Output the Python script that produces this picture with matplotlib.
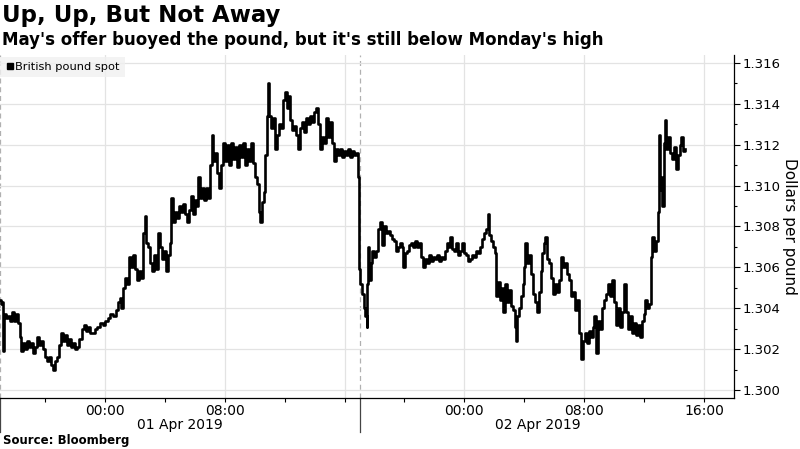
import matplotlib
matplotlib.use("Agg")
import matplotlib.pyplot as plt
import matplotlib.dates as mdates
import matplotlib.transforms as mtransforms
from matplotlib.lines import Line2D
from matplotlib.ticker import MultipleLocator, FuncFormatter
import pandas as pd

# GBP spot: (minutes after 31 Mar 2019 17:00 New York close, price)
spot = [
    (0, 1.3044), (4, 1.3042), (8, 1.3043), (12, 1.3019), (16, 1.3037), (24, 1.3035),
    (32, 1.3036), (40, 1.3034), (48, 1.3038), (56, 1.3034), (64, 1.3037), (72, 1.3033),
    (80, 1.3026), (84, 1.3019), (92, 1.3023), (100, 1.3020), (108, 1.3024), (116, 1.3021),
    (124, 1.3023), (132, 1.3018), (140, 1.3021), (148, 1.3026), (156, 1.3022), (164, 1.3024),
    (172, 1.3020), (180, 1.3016), (188, 1.3014), (196, 1.3016), (204, 1.3012), (212, 1.3010),
    (220, 1.3014), (228, 1.3016), (236, 1.3022), (244, 1.3028), (252, 1.3024), (260, 1.3027),
    (268, 1.3022), (276, 1.3025), (284, 1.3021), (292, 1.3023), (300, 1.3020), (308, 1.3021),
    (316, 1.3025), (328, 1.3030), (336, 1.3032), (344, 1.3029), (352, 1.3031), (360, 1.3028),
    (372, 1.3028), (380, 1.3030), (388, 1.3031), (400, 1.3033), (412, 1.3032), (420, 1.3034),
    (432, 1.3035), (440, 1.3037), (452, 1.3036), (464, 1.3039), (472, 1.3043), (480, 1.3045),
    (484, 1.3040), (492, 1.3050), (500, 1.3055), (508, 1.3052), (516, 1.3065), (524, 1.3060),
    (532, 1.3066), (540, 1.3059), (548, 1.3054), (556, 1.3058), (564, 1.3055), (572, 1.3077),
    (580, 1.3085), (584, 1.3072), (592, 1.3070), (600, 1.3062), (608, 1.3058), (616, 1.3066),
    (624, 1.3059), (632, 1.3077), (640, 1.3070), (648, 1.3064), (656, 1.3068), (664, 1.3058),
    (672, 1.3066), (680, 1.3072), (684, 1.3094), (692, 1.3082), (700, 1.3087), (708, 1.3084),
    (716, 1.3090), (724, 1.3087), (732, 1.3091), (740, 1.3086), (748, 1.3082), (756, 1.3088),
    (764, 1.3095), (772, 1.3086), (780, 1.3093), (788, 1.3090), (792, 1.3104), (800, 1.3094),
    (808, 1.3099), (816, 1.3093), (824, 1.3099), (832, 1.3094), (840, 1.3110), (848, 1.3125),
    (852, 1.3112), (860, 1.3116), (868, 1.3106), (876, 1.3099), (884, 1.3110), (892, 1.3121),
    (900, 1.3112), (908, 1.3120), (916, 1.3110), (924, 1.3121), (932, 1.3113), (940, 1.3119),
    (948, 1.3109), (956, 1.3120), (964, 1.3114), (972, 1.3121), (980, 1.3110), (988, 1.3118),
    (996, 1.3112), (1004, 1.3121), (1012, 1.3111), (1020, 1.3104), (1028, 1.3101),
    (1036, 1.3087), (1040, 1.3082), (1048, 1.3092), (1056, 1.3097), (1060, 1.3115),
    (1068, 1.3134), (1072, 1.3150), (1076, 1.3134), (1084, 1.3128), (1092, 1.3133),
    (1100, 1.3118), (1108, 1.3125), (1116, 1.3130), (1124, 1.3128), (1132, 1.3142),
    (1140, 1.3146), (1148, 1.3138), (1156, 1.3144), (1160, 1.3132), (1168, 1.3127),
    (1176, 1.3129), (1184, 1.3125), (1192, 1.3118), (1200, 1.3128), (1208, 1.3131),
    (1216, 1.3126), (1224, 1.3133), (1232, 1.3130), (1240, 1.3134), (1248, 1.3131),
    (1256, 1.3136), (1264, 1.3138), (1272, 1.3130), (1280, 1.3118), (1288, 1.3124),
    (1296, 1.3121), (1304, 1.3133), (1312, 1.3124), (1320, 1.3131), (1328, 1.3121),
    (1336, 1.3112), (1344, 1.3118), (1352, 1.3115), (1360, 1.3118), (1368, 1.3114),
    (1376, 1.3117), (1384, 1.3115), (1392, 1.3118), (1400, 1.3114), (1408, 1.3117),
    (1416, 1.3115), (1424, 1.3116), (1432, 1.3104), (1436, 1.3059), (1440, 1.3052),
    (1448, 1.3047), (1456, 1.3040), (1460, 1.3036), (1468, 1.3031), (1472, 1.3052),
    (1476, 1.3070), (1480, 1.3054), (1488, 1.3062), (1492, 1.3068), (1500, 1.3065),
    (1508, 1.3068), (1516, 1.3079), (1524, 1.3082), (1532, 1.3071), (1540, 1.3080),
    (1548, 1.3077), (1556, 1.3078), (1564, 1.3076), (1572, 1.3074), (1580, 1.3073),
    (1588, 1.3068), (1596, 1.3070), (1604, 1.3072), (1612, 1.3070), (1616, 1.3060),
    (1624, 1.3067), (1632, 1.3068), (1640, 1.3071), (1648, 1.3072), (1656, 1.3070),
    (1664, 1.3073), (1672, 1.3070), (1680, 1.3072), (1688, 1.3065), (1696, 1.3060),
    (1704, 1.3064), (1712, 1.3062), (1720, 1.3066), (1728, 1.3063), (1736, 1.3065),
    (1744, 1.3064), (1752, 1.3066), (1760, 1.3063), (1768, 1.3065), (1776, 1.3064),
    (1784, 1.3068), (1792, 1.3072), (1800, 1.3070), (1804, 1.3075), (1812, 1.3069),
    (1820, 1.3068), (1828, 1.3072), (1836, 1.3066), (1844, 1.3068), (1852, 1.3072),
    (1860, 1.3067), (1868, 1.3066), (1876, 1.3063), (1884, 1.3064), (1892, 1.3066),
    (1900, 1.3065), (1908, 1.3068), (1916, 1.3067), (1924, 1.3070), (1932, 1.3074),
    (1940, 1.3077), (1948, 1.3079), (1956, 1.3086), (1960, 1.3076), (1968, 1.3073),
    (1976, 1.3070), (1984, 1.3067), (1988, 1.3046), (1996, 1.3053), (2004, 1.3044),
    (2012, 1.3050), (2016, 1.3038), (2024, 1.3052), (2032, 1.3043), (2040, 1.3049),
    (2048, 1.3041), (2056, 1.3039), (2064, 1.3031), (2068, 1.3024), (2072, 1.3036),
    (2080, 1.3040), (2088, 1.3046), (2096, 1.3052), (2100, 1.3060), (2104, 1.3072),
    (2112, 1.3062), (2120, 1.3066), (2128, 1.3057), (2136, 1.3047), (2144, 1.3043),
    (2152, 1.3038), (2160, 1.3048), (2168, 1.3058), (2172, 1.3067), (2180, 1.3072),
    (2184, 1.3075), (2192, 1.3064), (2200, 1.3062), (2208, 1.3055), (2216, 1.3047),
    (2224, 1.3052), (2232, 1.3048), (2240, 1.3054), (2248, 1.3065), (2256, 1.3060),
    (2264, 1.3062), (2272, 1.3057), (2280, 1.3054), (2288, 1.3046), (2296, 1.3048),
    (2304, 1.3039), (2312, 1.3044), (2320, 1.3028), (2328, 1.3015), (2336, 1.3024),
    (2344, 1.3028), (2352, 1.3023), (2360, 1.3029), (2368, 1.3026), (2376, 1.3031),
    (2380, 1.3036), (2388, 1.3018), (2396, 1.3034), (2404, 1.3030), (2412, 1.3040),
    (2420, 1.3044), (2428, 1.3047), (2436, 1.3052), (2444, 1.3046), (2452, 1.3054),
    (2460, 1.3043), (2468, 1.3032), (2476, 1.3040), (2484, 1.3031), (2492, 1.3038),
    (2500, 1.3052), (2508, 1.3038), (2516, 1.3030), (2524, 1.3036), (2532, 1.3028),
    (2540, 1.3033), (2548, 1.3027), (2556, 1.3032), (2564, 1.3026), (2572, 1.3034),
    (2580, 1.3037), (2584, 1.3044), (2592, 1.3040), (2600, 1.3042), (2608, 1.3065),
    (2612, 1.3075), (2620, 1.3068), (2628, 1.3073), (2636, 1.3087), (2640, 1.3125),
    (2644, 1.3098), (2648, 1.3104), (2652, 1.3090), (2660, 1.3121), (2664, 1.3132),
    (2668, 1.3118), (2676, 1.3124), (2684, 1.3116), (2692, 1.3113), (2700, 1.3119),
    (2708, 1.3108), (2716, 1.3115), (2724, 1.3120), (2728, 1.3124), (2736, 1.3117),
    (2744, 1.3118),
]
minutes = [m for m, p in spot]
price = [p for m, p in spot]

start = pd.Timestamp("2019-03-31 17:00")
end = pd.Timestamp("2019-04-02 18:00")
day_breaks = [pd.Timestamp("2019-03-31 17:00"), pd.Timestamp("2019-04-01 17:00")]
day_labels = ["01 Apr 2019", "02 Apr 2019"]
day_label_pos = [pd.Timestamp("2019-04-01 05:00"), pd.Timestamp("2019-04-02 04:55")]

times = start + pd.to_timedelta(minutes, unit="min")

fig = plt.figure(figsize=(8, 4.49), dpi=100)
ax = fig.add_axes([0.0, 0.1136, 0.9175, 0.7639])

ax.plot(times, price, color="black", lw=1.9, drawstyle="steps-post", zorder=3)

ax.set_xlim(start, end)
ax.set_ylim(1.29961, 1.31639)

# y axis on the right
ax.yaxis.tick_right()
ax.yaxis.set_label_position("right")
ax.yaxis.set_major_locator(MultipleLocator(0.002))
ax.yaxis.set_minor_locator(MultipleLocator(0.001))
ax.yaxis.set_major_formatter(FuncFormatter(lambda v, p: "%.3f" % v))
ax.tick_params(axis="y", which="major", length=4, width=0.8, labelsize=9.5, pad=2)
ax.tick_params(axis="y", which="minor", length=2, width=0.8)
ax.set_ylabel("Dollars per pound", rotation=270, labelpad=12, fontsize=11)

# x axis
ax.xaxis.set_major_locator(mdates.HourLocator(byhour=[0, 8, 16]))
ax.xaxis.set_minor_locator(mdates.HourLocator(byhour=[4, 12, 20]))


def fmt_time(v, p):
    d = mdates.num2date(v).replace(tzinfo=None)
    if d < pd.Timestamp("2019-04-01 17:00") and d.hour == 16:
        return ""
    return d.strftime("%H:%M")


ax.xaxis.set_major_formatter(FuncFormatter(fmt_time))
ax.tick_params(axis="x", which="major", length=3, width=0.8, labelsize=10, pad=1)
ax.tick_params(axis="x", which="minor", length=3, width=0.8)

ax.grid(True, which="major", color="#e3e3e3", lw=0.9, zorder=0)

for sp in ["top", "left"]:
    ax.spines[sp].set_visible(False)
ax.spines["right"].set_linewidth(0.9)
ax.spines["bottom"].set_linewidth(0.9)

trans = mtransforms.blended_transform_factory(ax.transData, ax.transAxes)
for b in day_breaks:
    ax.axvline(b, color="#b0b0b0", lw=0.9, ls=(0, (4, 3)), zorder=1)
    ax.plot([b, b], [0, -0.1], transform=trans, color="#444444", lw=0.9, clip_on=False)
for lbl, pos in zip(day_labels, day_label_pos):
    ax.text(pos, -0.08, lbl, transform=trans, ha="center", va="center", fontsize=10)

# legend box
handle = Line2D([], [], marker="s", color="black", ls="none", markersize=5)
leg = ax.legend([handle], ["British pound spot"], loc="upper left",
                bbox_to_anchor=(0.0, 0.995), borderaxespad=0, frameon=True,
                fancybox=False, handletextpad=0.1, handlelength=0.8,
                borderpad=0.45, prop={"size": 8.2})
leg.get_frame().set_facecolor("#f0f0f0")
leg.get_frame().set_edgecolor("none")

fig.text(0.002, 0.965, "Up, Up, But Not Away", fontsize=16.5, fontweight="bold",
         va="center", ha="left")
fig.text(0.002, 0.91, "May's offer buoyed the pound, but it's still below Monday's high",
         fontsize=12, fontweight="bold", va="center", ha="left")
fig.text(0.004, 0.02, "Source: Bloomberg", fontsize=8.5, fontweight="bold",
         va="center", ha="left")

fig.savefig("out.png", dpi=100)
